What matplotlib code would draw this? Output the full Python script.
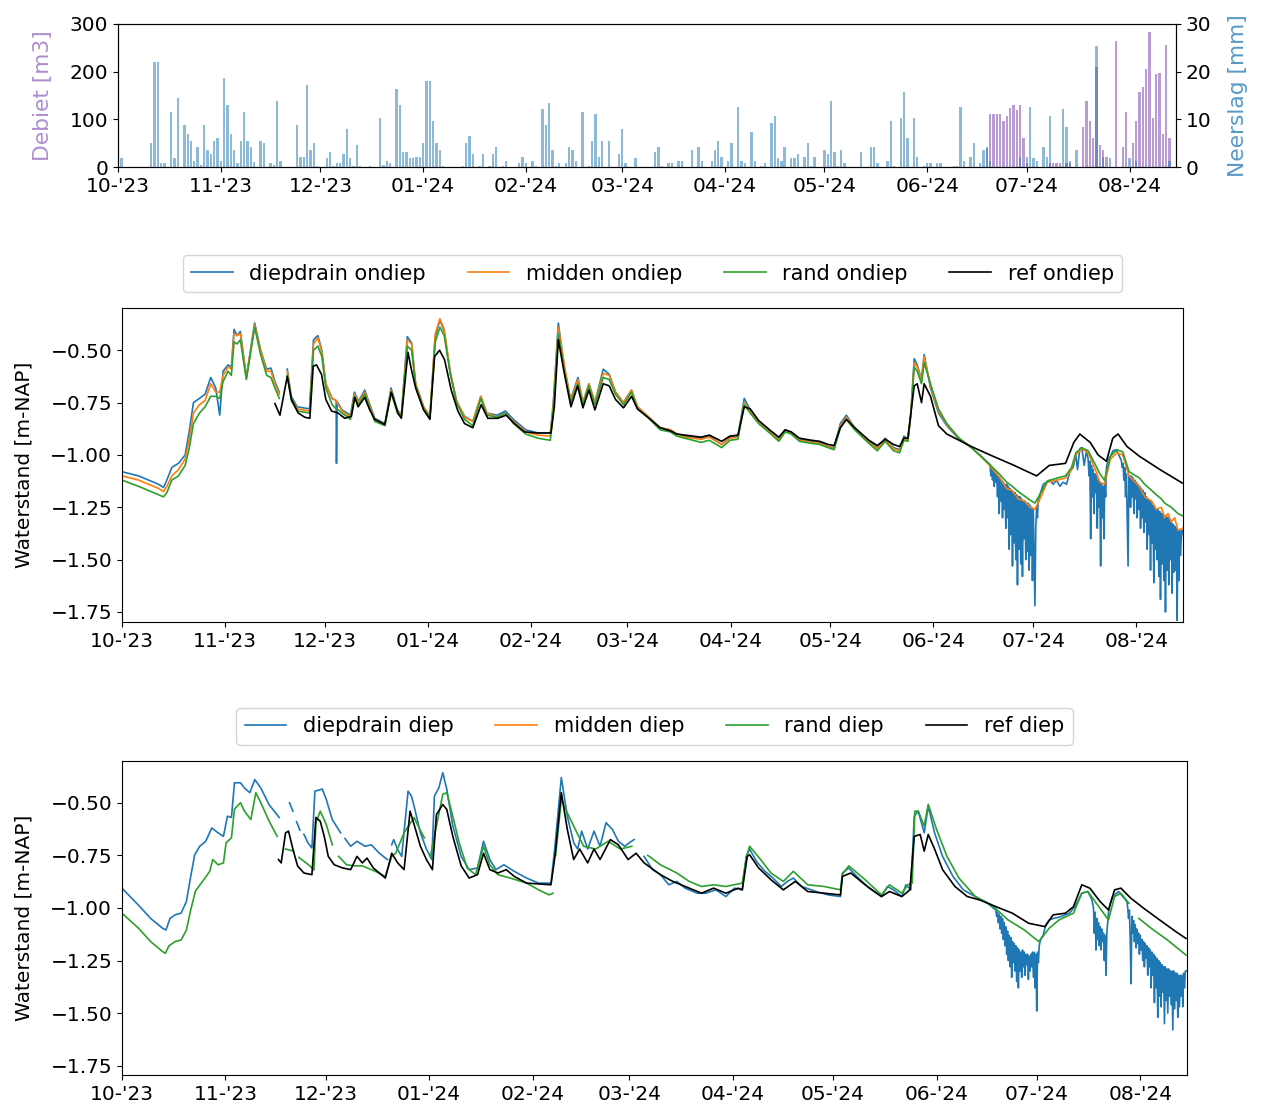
import numpy as np
import pandas as pd
import matplotlib
matplotlib.use("Agg")
import matplotlib.pyplot as plt
import matplotlib.dates as mdates

plt.rcParams['font.size'] = 14.5

start = pd.Timestamp('2023-10-01')

# Neerslag [mm] per dag (dag-index vanaf 1 okt 2023)
rain_days = [1, 10, 11, 12, 13, 14, 16, 17, 18, 20, 21, 22, 23, 24, 25, 26, 27, 28, 29, 30,
             31, 32, 33, 34, 35, 36, 37, 38, 39, 40, 41, 43, 44, 46, 47, 48, 49, 54, 55, 56,
             57, 58, 59, 60, 63, 64, 65, 66, 67, 68, 69, 70, 71, 72, 73, 76, 79, 80, 81, 82,
             84, 85, 86, 87, 88, 89, 90, 91, 92, 93, 94, 95, 96, 97, 98, 104, 105, 106, 107, 109,
             110, 112, 113, 114, 116, 117, 121, 122, 123, 125, 126, 128, 129, 130, 131, 132, 133, 135, 136, 137,
             138, 140, 142, 143, 144, 145, 146, 148, 151, 152, 153, 156, 162, 163, 164, 166, 167, 169, 170, 173,
             175, 176, 179, 180, 181, 182, 184, 185, 187, 188, 189, 191, 192, 194, 195, 197, 198, 199, 200, 201,
             203, 204, 205, 207, 208, 209, 210, 213, 214, 215, 216, 217, 218, 219, 224, 227, 228, 229, 232, 233,
             234, 236, 237, 238, 240, 241, 243, 244, 245, 247, 248, 252, 253, 254, 255, 257, 258, 260, 261, 262,
             263, 272, 274, 275, 276, 277, 279, 280, 281, 285, 286, 287, 289, 295, 297, 299, 305, 307, 317]
rain_mm = [1.8, 5.0, 22.0, 22.0, 0.8, 0.8, 11.6, 1.8, 14.4, 8.8, 7.0, 5.5, 1.3, 4.1, 0.5, 8.8, 3.6, 2.8, 5.5, 6.0,
           1.3, 18.6, 13.0, 7.0, 3.6, 0.8, 5.5, 11.6, 5.5, 4.1, 1.0, 5.5, 5.0, 0.8, 0.5, 13.9, 1.3, 8.8, 2.2, 2.2,
           17.2, 3.6, 5.0, 0.3, 1.8, 3.2, 0.3, 0.8, 0.8, 2.7, 7.9, 1.8, 0.3, 4.6, 0.3, 0.3, 10.2, 0.5, 1.3, 0.8,
           16.3, 13.0, 3.2, 3.2, 1.8, 1.8, 2.2, 2.2, 5.0, 18.1, 18.1, 9.7, 5.0, 3.6, 0.3, 0.3, 5.0, 6.5, 2.8, 0.3,
           2.8, 0.3, 2.8, 4.1, 0.3, 1.3, 0.8, 2.2, 0.8, 1.3, 0.3, 12.1, 8.8, 13.5, 3.6, 0.3, 0.8, 0.8, 4.1, 3.6,
           1.3, 11.6, 0.3, 5.5, 11.1, 2.2, 5.5, 5.5, 2.7, 7.9, 0.8, 1.8, 3.2, 4.1, 0.3, 0.8, 0.8, 1.3, 1.3, 3.6,
           4.1, 1.3, 1.3, 3.6, 5.5, 2.2, 1.3, 5.0, 12.5, 1.3, 0.8, 7.4, 1.3, 0.3, 0.8, 9.3, 10.6, 1.8, 1.3, 4.1,
           1.8, 1.8, 2.7, 2.2, 5.0, 0.3, 2.2, 3.6, 2.7, 13.9, 3.2, 0.3, 3.6, 0.8, 3.2, 4.1, 4.1, 0.8, 1.3, 9.7,
           0.3, 10.2, 15.8, 6.0, 10.2, 2.2, 0.3, 0.8, 0.8, 0.8, 0.8, 0.3, 0.3, 12.5, 1.3, 2.2, 5.0, 0.8, 3.6, 4.1,
           1.3, 2.2, 2.2, 12.5, 1.8, 1.3, 4.1, 2.2, 10.6, 12.1, 8.3, 1.3, 3.6, 25.4, 2.2, 1.8, 1.8, 1.3, 1.3]

# Debiet [m3] per dag
debiet_days = [262, 263, 264, 265, 266, 267, 268, 269, 270, 271, 272, 273, 274,
               281, 282, 283, 284, 286, 287, 291, 292, 293, 294, 295, 296, 297, 298,
               301, 303, 304, 306, 307, 308, 309, 310, 311, 312, 313, 314, 315, 316, 317]
debiet_m3 = [40, 111, 111, 111, 111, 97, 106, 124, 129, 120, 129, 60, 8,
             8, 8, 8, 8, 8, 8, 83, 139, 97, 60, 209, 46, 36, 22,
             265, 41, 116, 50, 97, 158, 167, 205, 284, 102, 195, 198, 70, 256, 60]

# Ondiepe peilbuizen (gedeeld dag-raster tot half juni)
ond_days = [0, 5, 11, 12.5, 13.5, 15, 17, 19, 20.2, 21.5, 23.3, 25, 26.7, 28.2, 29.4, 30.4, 31.9, 32.9,
            33.7, 34.6, 35.6, 37.4, 39.9, 41.7, 43.5, 44.8, 46, 47.3, 48, 49.7, 50.9, 52.7, 56.4, 57.6,
            58.9, 60.1, 61.3, 63.2, 64.4, 64.5, 64.7, 66.2, 68.7, 69.9, 71.1, 73, 74.2, 76, 79.1, 80.9,
            82.8, 84, 85.8, 87.1, 88.3, 90.7, 92.6, 94.2, 95.6, 96.9, 98.7, 100.6, 103, 105.5, 107.9,
            109.7, 112.8, 115.3, 117.7, 121.4, 125.1, 128.8, 129.7, 131.2, 133, 134.9, 137.1, 138.6,
            140.4, 142.2, 144.7, 146.5, 148.4, 150.8, 153.2, 155, 158.1, 161.8, 164.9, 166.8, 169.2,
            174.1, 176.6, 180.3, 182.8, 185.2, 187.1, 188.9, 191.4, 195.1, 197.5, 199.4, 201.2, 203.7,
            207.4, 209.8, 212.3, 214.1, 216, 217.8, 220.3, 224.6, 227.1, 229.5, 232, 233.8, 235.1,
            236.3, 237.2, 238.2, 239.1, 240.4, 241.2, 243.1, 245.5, 248, 251.7, 255.4, 257.8, 260.9]
drain_ond = [-1.08, -1.10, -1.14, -1.155, -1.12, -1.06, -1.04, -1.00, -0.89, -0.75, -0.73, -0.71, -0.63, -0.68, -0.81, -0.60, -0.57, -0.58,
             -0.40, -0.43, -0.41, -0.63, -0.37, -0.50, -0.59, -0.585, -0.65, -0.70, np.nan, -0.59, -0.72, -0.77, -0.78, -0.45,
             -0.43, -0.50, -0.66, -0.73, -0.74, -1.04, -0.745, -0.785, -0.81, -0.70, -0.745, -0.69, -0.745, -0.825, -0.85, -0.68,
             -0.785, -0.81, -0.435, -0.465, -0.66, -0.77, -0.815, -0.435, -0.355, -0.41, -0.61, -0.745, -0.815, -0.84, -0.72,
             -0.80, -0.81, -0.79, -0.83, -0.88, -0.895, -0.895, -0.75, -0.37, -0.58, -0.735, -0.63, -0.75,
             -0.66, -0.75, -0.59, -0.615, -0.70, -0.75, -0.69, -0.77, -0.815, -0.87, -0.88, -0.90, -0.91,
             -0.92, -0.91, -0.95, -0.915, -0.91, -0.73, -0.785, -0.84, -0.89, -0.925, -0.88, -0.89, -0.925,
             -0.935, -0.94, -0.96, -0.965, -0.85, -0.81, -0.87, -0.935, -0.965, -0.92, -0.965, -0.975, -0.91,
             -0.925, -0.80, -0.54, -0.57, -0.64, -0.52, -0.68, -0.80, -0.86, -0.925, -0.965, -0.998, -1.045]
midden_ond = [-1.10, -1.12, -1.16, -1.175, -1.15, -1.10, -1.07, -1.02, -0.93, -0.80, -0.76, -0.74, -0.66, -0.70, -0.70, -0.62, -0.58, -0.59,
              -0.42, -0.43, -0.42, -0.63, -0.38, -0.50, -0.60, -0.60, -0.66, -0.71, np.nan, -0.60, -0.73, -0.78, -0.79, -0.47,
              -0.44, -0.51, -0.66, -0.73, -0.74, -0.745, -0.75, -0.79, -0.82, -0.71, -0.75, -0.70, -0.75, -0.83, -0.855, -0.69,
              -0.79, -0.815, -0.45, -0.47, -0.66, -0.77, -0.815, -0.42, -0.35, -0.40, -0.60, -0.74, -0.82, -0.84, -0.72,
              -0.80, -0.82, -0.80, -0.84, -0.89, -0.905, -0.91, -0.76, -0.39, -0.57, -0.74, -0.64, -0.75,
              -0.66, -0.75, -0.61, -0.62, -0.70, -0.75, -0.69, -0.77, -0.815, -0.87, -0.88, -0.90, -0.915,
              -0.925, -0.915, -0.95, -0.92, -0.915, -0.75, -0.79, -0.84, -0.89, -0.93, -0.885, -0.895, -0.93,
              -0.94, -0.945, -0.96, -0.97, -0.86, -0.82, -0.87, -0.94, -0.97, -0.925, -0.97, -0.98, -0.92,
              -0.93, -0.80, -0.56, -0.58, -0.64, -0.53, -0.67, -0.79, -0.855, -0.92, -0.965, -1.00, -1.05]
rand_ond = [-1.12, -1.15, -1.19, -1.20, -1.18, -1.12, -1.10, -1.05, -0.97, -0.85, -0.80, -0.77, -0.72, -0.72, -0.73, -0.65, -0.60, -0.62,
            -0.46, -0.47, -0.45, -0.64, -0.39, -0.52, -0.62, -0.63, -0.68, -0.73, np.nan, -0.62, -0.74, -0.79, -0.80, -0.50,
            -0.48, -0.53, -0.68, -0.76, -0.78, -0.78, -0.78, -0.80, -0.83, -0.72, -0.76, -0.71, -0.76, -0.84, -0.86, -0.70,
            -0.80, -0.82, -0.48, -0.50, -0.67, -0.78, -0.82, -0.46, -0.39, -0.43, -0.61, -0.75, -0.83, -0.86, -0.73,
            -0.81, -0.82, -0.80, -0.85, -0.90, -0.92, -0.93, -0.78, -0.42, -0.60, -0.75, -0.66, -0.76,
            -0.67, -0.76, -0.63, -0.64, -0.71, -0.76, -0.70, -0.78, -0.82, -0.88, -0.89, -0.91, -0.92,
            -0.94, -0.93, -0.965, -0.93, -0.925, -0.76, -0.80, -0.85, -0.90, -0.935, -0.89, -0.90, -0.935,
            -0.945, -0.95, -0.965, -0.975, -0.87, -0.83, -0.88, -0.945, -0.98, -0.935, -0.98, -0.99, -0.93,
            -0.935, -0.81, -0.58, -0.60, -0.66, -0.56, -0.66, -0.78, -0.85, -0.92, -0.965, -1.00, -1.046]

# zomer: midden en rand ondiep
ond_zomer_days = [264, 266, 267.7, 269.5, 271.4, 273, 274.5, 276.3, 278.2, 281.2, 283.7, 285.5, 286.8, 288.6, 290.5, 292.9,
                  294, 295.4, 297.2, 299.1, 300.9, 302.8, 305.9, 307.5, 309.6, 311, 312.5, 313.5, 314.5, 315.5, 316.5, 317.5, 318.8]
midden_ond_zomer = [-1.11, -1.16, -1.17, -1.21, -1.22, -1.25, -1.26, -1.20, -1.13, -1.12, -1.11, -1.07, -1.00, -0.97, -0.99, -1.08,
                    -1.13, -1.14, -1.02, -0.99, -1.00, -1.10, -1.15, -1.20, -1.22, -1.26, -1.25, -1.30, -1.28, -1.32, -1.30, -1.36, -1.35]
rand_ond_zomer = [-1.094, -1.13, -1.15, -1.175, -1.197, -1.215, -1.23, -1.18, -1.125, -1.11, -1.10, -1.06, -0.99, -0.965, -0.98, -1.054,
                  -1.09, -1.12, -1.006, -0.975, -0.985, -1.08, -1.11, -1.14, -1.17, -1.19, -1.21, -1.23, -1.24, -1.25, -1.265, -1.28, -1.29]

# zomer: diepdrain ondiep (pompende drain, sterke schommelingen)
drain_ond_zomer_days = [261.0, 261.25, 261.5, 261.75, 262.0, 262.25, 262.5, 262.75, 263.0, 263.25, 263.5, 263.75,
                        264.0, 264.25, 264.5, 264.75, 265.0, 265.25, 265.5, 265.75, 266.0, 266.25, 266.5, 266.75,
                        267.0, 267.25, 267.5, 267.75, 268.0, 268.25, 268.5, 268.75, 269.0, 269.25, 269.5, 269.75,
                        270.0, 270.25, 270.5, 270.75, 271.0, 271.25, 271.5, 271.75, 272.0, 272.25, 272.5, 272.75,
                        273.0, 273.25, 273.5, 273.75, 274.0, 274.25, 274.5, 274.75, 275.0, 275.25, 275.5, 275.75, 276.0,
                        277, 278, 279, 280, 281, 282, 283, 284, 285, 286, 286.8, 287.3, 288, 288.6, 289.3, 290,
                        290.5, 290.75, 291.0, 291.25, 291.5, 291.75, 292.0, 292.25, 292.5, 292.75, 293.0, 293.25,
                        293.5, 293.75, 294.0, 294.25, 294.5, 294.75, 295.0, 295.25, 295.5, 295.75, 296.0, 296.5,
                        297.2, 298, 299, 299.7, 300.3,
                        300.5, 300.75, 301.0, 301.25, 301.5, 301.75, 302.0, 302.25, 302.5, 302.75, 303.0, 303.25,
                        303.5, 303.75, 304.0, 304.25, 304.5, 304.75, 305.0, 305.25, 305.5, 305.75, 306.0, 306.25,
                        306.5, 306.75, 307.0, 307.25, 307.5, 307.75, 308.0, 308.25, 308.5, 308.75, 309.0, 309.25,
                        309.5, 309.75, 310.0, 310.25, 310.5, 310.75, 311.0, 311.25, 311.5, 311.75, 312.0, 312.25,
                        312.5, 312.75, 313.0, 313.25, 313.5, 313.75, 314.0, 314.25, 314.5, 314.75, 315.0, 315.25,
                        315.5, 315.75, 316.0, 316.25, 316.5, 316.75, 317.0, 317.25, 317.5, 317.75, 318.0, 318.25,
                        318.5, 318.75, 319.0]
drain_ond_zomer = [-1.05, -1.10, -1.06, -1.12, -1.07, -1.15, -1.08, -1.13, -1.09, -1.20, -1.10, -1.28,
                   -1.11, -1.22, -1.12, -1.30, -1.13, -1.26, -1.14, -1.35, -1.14, -1.30, -1.15, -1.45,
                   -1.16, -1.38, -1.17, -1.53, -1.18, -1.42, -1.18, -1.50, -1.19, -1.62, -1.20, -1.45,
                   -1.20, -1.52, -1.21, -1.58, -1.22, -1.40, -1.22, -1.50, -1.23, -1.46, -1.23, -1.55,
                   -1.24, -1.48, -1.25, -1.60, -1.26, -1.50, -1.72, -1.35, -1.25, -1.30, -1.21, -1.22, -1.19,
                   -1.14, -1.13, -1.12, -1.14, -1.12, -1.15, -1.13, -1.14, -1.08, -1.06, -1.00, -1.07, -0.97, -0.965, -1.05, -0.98,
                   -1.02, -1.10, -1.03, -1.40, -1.05, -1.20, -1.07, -1.28, -1.09, -1.18, -1.10, -1.35,
                   -1.12, -1.25, -1.13, -1.53, -1.14, -1.30, -1.15, -1.40, -1.12, -1.20, -1.06, -1.02,
                   -1.006, -0.98, -0.975, -1.00, -1.02,
                   -1.03, -1.06, -1.04, -1.12, -1.06, -1.20, -1.09, -1.30, -1.53, -1.10, -1.10, -1.25,
                   -1.10, -1.20, -1.11, -1.28, -1.12, -1.21, -1.13, -1.30, -1.14, -1.26, -1.15, -1.35,
                   -1.16, -1.30, -1.17, -1.37, -1.18, -1.32, -1.20, -1.45, -1.21, -1.38, -1.22, -1.55,
                   -1.23, -1.42, -1.24, -1.61, -1.25, -1.45, -1.26, -1.50, -1.26, -1.58, -1.27, -1.69,
                   -1.28, -1.52, -1.28, -1.60, -1.29, -1.75, -1.29, -1.55, -1.30, -1.62, -1.31, -1.50,
                   -1.32, -1.66, -1.33, -1.56, -1.34, -1.55, -1.35, -1.79, -1.36, -1.60, -1.36, -1.48,
                   -1.40, -1.36, -1.37]

# referentie ondiep
ref_ond_days = [46, 47.5, 49.7, 51, 53, 55, 56.5, 57.5, 58.5, 60, 61.3, 63, 65, 67, 69, 70, 71, 73, 74.5, 76, 79, 81,
                83, 84, 86, 87, 88.3, 90.7, 92.6, 94, 95.5, 97, 99, 101, 103, 105.5, 108, 110, 113, 115.5, 118, 121,
                125, 129, 130, 131.2, 133, 135, 137, 138.6, 140.4, 142.2, 144.7, 146.5, 148.4, 150.8, 153.2, 155, 158.1,
                161.8, 164.9, 166.8, 169.2, 174.1, 176.6, 180.3, 182.8, 185.2, 187.1, 188.9, 191.4, 195.1, 197.5, 199.4,
                201.2, 203.7, 207.4, 209.8, 212.3, 214.1, 216, 217.8, 220.3, 224.6, 227.1, 229.5, 232, 233.8, 235.1, 236.3,
                237.2, 238.2, 239.1, 240.4, 241.2, 243.1, 245.5, 248, 251.7, 255.4, 261, 267.7, 275, 278.8, 283.7, 286.2,
                288, 291.1, 293.5, 296, 297.9, 299.5, 302.2, 305.9, 312.1, 318.8]
ref_ond = [-0.755, -0.81, -0.625, -0.735, -0.80, -0.82, -0.825, -0.576, -0.57, -0.615, -0.735, -0.79, -0.80, -0.825, -0.815, -0.725, -0.77, -0.725, -0.785, -0.83, -0.855, -0.70,
           -0.80, -0.825, -0.51, -0.59, -0.68, -0.785, -0.83, -0.53, -0.50, -0.545, -0.69, -0.79, -0.85, -0.87, -0.76, -0.825, -0.825, -0.81, -0.85, -0.89,
           -0.895, -0.895, -0.77, -0.45, -0.61, -0.77, -0.67, -0.775, -0.69, -0.785, -0.66, -0.67, -0.735, -0.775, -0.72, -0.78, -0.82,
           -0.87, -0.885, -0.90, -0.905, -0.915, -0.905, -0.935, -0.91, -0.905, -0.77, -0.78, -0.835, -0.885, -0.915, -0.88,
           -0.89, -0.92, -0.93, -0.935, -0.95, -0.955, -0.87, -0.83, -0.87, -0.93, -0.955, -0.925, -0.95, -0.96, -0.92, -0.92,
           -0.80, -0.67, -0.66, -0.75, -0.66, -0.72, -0.86, -0.90, -0.93, -0.96, -1.00, -1.046, -1.10, -1.05, -1.04, -0.94,
           -0.90, -0.94, -1.00, -1.03, -0.92, -0.90, -0.96, -1.006, -1.07, -1.134]

# Diepe peilbuizen
drain_diep_days = [0, 4.9, 8.6, 12.2, 13.2, 14.4, 15.9, 17.7, 19.3, 20.6, 21.8, 23.3, 25.1, 26.9, 28.8, 30.4, 31.6, 32.8,
                   33.7, 35.5, 36.7, 38.3, 39.8, 41.6, 44.1, 47.1, 47.6, 50.2, 51.2, 51.6, 52.3, 53.3, 53.8, 54.5, 55.7,
                   56.9, 57.8, 60, 61.2, 63, 65.5, 66, 66.8, 68.5, 70.4, 72.8, 74.7, 77.1, 79.5, 80, 80.8, 81.4, 82.5,
                   83.8, 85.7, 86.7, 87.5, 89.4, 91.2, 92.8, 93.6, 94.9, 96.1, 97.3, 99.1, 101.6, 104, 106.5, 108.3,
                   110.2, 112, 114.4, 117.5, 121.2, 124.8, 128.5, 129.7, 131.6, 133.4, 135.3, 136.5, 137.7, 139.5, 141.4,
                   143.2, 145, 146.9, 148.7, 150.6, 152, 153.4, 154, 156.4, 158.9, 161.3, 163.8, 166.2, 168.7, 172.3,
                   174.8, 177.9, 180.9, 183.4, 185.8, 187, 188, 190.1, 192.6, 195, 197.5, 199.3, 201.1, 203.6, 207.9,
                   211.5, 215.2, 215.8, 217.7, 220.1, 223.8, 227.5, 229.3, 231.1, 233.6, 234.8, 236.3, 237.3, 238.5,
                   240.3, 241.5, 243.4, 245.8, 248.9, 252, 255.6, 259.3]
drain_diep = [-0.906, -0.986, -1.05, -1.097, -1.105, -1.05, -1.033, -1.025, -0.97, -0.85, -0.747, -0.707, -0.683, -0.62, -0.643, -0.66, -0.564, -0.57,
              -0.405, -0.405, -0.43, -0.452, -0.39, -0.43, -0.51, -0.57, np.nan, -0.50, -0.54, np.nan, -0.59, -0.63, np.nan, -0.65, -0.69,
              -0.715, -0.445, -0.435, -0.484, -0.58, -0.643, np.nan, -0.67, -0.707, -0.683, -0.707, -0.70, -0.74, -0.77, np.nan, -0.70, -0.675, -0.72,
              -0.755, -0.445, -0.468, -0.516, -0.643, -0.72, -0.77, -0.468, -0.43, -0.357, -0.436, -0.61, -0.755, -0.818, -0.81, -0.683,
              -0.77, -0.818, -0.795, -0.826, -0.858, -0.882, -0.882, -0.707, -0.38, -0.564, -0.69, -0.72, -0.635, -0.72, -0.635,
              -0.707, -0.595, -0.627, -0.683, -0.707, -0.69, -0.675, np.nan, -0.755, -0.818, -0.842, -0.89, -0.874, -0.906, -0.93,
              -0.93, -0.914, -0.946, -0.906, -0.914, -0.755, -0.72, -0.78, -0.826, -0.858, -0.898, -0.874, -0.858, -0.898, -0.922,
              -0.938, -0.946, -0.834, -0.81, -0.85, -0.906, -0.946, -0.898, -0.914, -0.946, -0.89, -0.914, -0.564, -0.54,
              -0.643, -0.516, -0.643, -0.755, -0.85, -0.914, -0.946, -0.978]

drain_diep_zomer_days = [261.75, 262.0, 262.25, 262.5, 262.75, 263.0, 263.25, 263.5, 263.75, 264.0, 264.25, 264.5,
                         264.75, 265.0, 265.25, 265.5, 265.75, 266.0, 266.25, 266.5, 266.75, 267.0, 267.25, 267.5,
                         267.75, 268.0, 268.25, 268.5, 268.75, 269.0, 269.25, 269.5, 269.75, 270.0, 270.25, 270.5,
                         270.75, 271.0, 271.25, 271.5, 271.75, 272.0, 272.25, 272.5, 272.75, 273.0, 273.25, 273.5,
                         273.75, 274.0, 274.25, 274.5, 274.75, 275.0, 275.5, 275.8, 276.7, 277.7, 279, 280.5, 281.4,
                         283, 283.8, 285.6, 287.5, 289.3, 290.5,
                         291.0, 291.25, 291.5, 291.75, 292.0, 292.25, 292.5, 292.75, 293.0, 293.25, 293.5, 293.75,
                         294.0, 294.25, 294.5, 294.75, 295.0, 295.5, 296.0, 296.7, 298.5, 300, 301,
                         301.25, 301.5, 301.75, 302.0, 302.25, 302.5, 302.75, 303.0, 303.25, 303.5, 303.75, 304.0,
                         304.25, 304.5, 304.75, 305.0, 305.25, 305.5, 305.75, 306.0, 306.25, 306.5, 306.75, 307.0,
                         307.25, 307.5, 307.75, 308.0, 308.25, 308.5, 308.75, 309.0, 309.25, 309.5, 309.75, 310.0,
                         310.25, 310.5, 310.75, 311.0, 311.25, 311.5, 311.75, 312.0, 312.25, 312.5, 312.75, 313.0,
                         313.25, 313.5, 313.75, 314.0, 314.25, 314.5, 314.75, 315.0, 315.25, 315.5, 315.75, 316.0,
                         316.25, 316.5, 316.75, 317.0, 317.25, 317.5, 317.75, 318.0, 318.25, 318.5, 318.75]
drain_diep_zomer = [-1.01, -1.04, -1.02, -1.07, -1.03, -1.10, -1.04, -1.12, -1.05, -1.15, -1.07, -1.18,
                    -1.09, -1.22, -1.11, -1.25, -1.13, -1.28, -1.14, -1.33, -1.16, -1.26, -1.17, -1.30,
                    -1.18, -1.35, -1.19, -1.38, -1.20, -1.30, -1.21, -1.33, -1.20, -1.28, -1.21, -1.32,
                    -1.22, -1.27, -1.22, -1.34, -1.23, -1.30, -1.22, -1.28, -1.21, -1.33, -1.21, -1.38,
                    -1.22, -1.49, -1.21, -1.26, -1.18, -1.16, -1.14, -1.137, -1.08, -1.057, -1.05, -1.045, -1.04,
                    -1.03, -1.025, -0.99, -0.93, -0.922, -0.96,
                    -1.00, -1.12, -1.02, -1.20, -1.05, -1.15, -1.07, -1.18, -1.09, -1.20, -1.10, -1.16,
                    -1.12, -1.25, -1.13, -1.32, -1.12, -1.02, -0.98, -0.946, -0.922, -0.95, -0.97,
                    -1.00, -1.05, -1.01, -1.15, -1.36, -1.04, -1.12, -1.06, -1.16, -1.08, -1.19, -1.10,
                    -1.17, -1.12, -1.22, -1.13, -1.20, -1.15, -1.25, -1.16, -1.28, -1.17, -1.24, -1.18,
                    -1.32, -1.19, -1.28, -1.20, -1.38, -1.21, -1.32, -1.22, -1.45, -1.23, -1.38, -1.24,
                    -1.52, -1.25, -1.42, -1.26, -1.47, -1.27, -1.40, -1.28, -1.55, -1.28, -1.44, -1.29,
                    -1.50, -1.29, -1.42, -1.30, -1.46, -1.30, -1.58, -1.30, -1.48, -1.31, -1.44, -1.31,
                    -1.52, -1.32, -1.47, -1.32, -1.42, -1.32, -1.47, -1.31, -1.38, -1.30, -1.30]

# midden diep heeft geen metingen
midden_diep_days = []
midden_diep = []

rand_diep_days = [0, 5, 8.6, 12.2, 13, 14.1, 15.9, 17.7, 19.3, 20.6, 22, 24.5, 26.3, 27.2, 28.8, 30.4, 31.2, 32.8, 33.7,
                  35.5, 36.7, 38.6, 40.1, 41.6, 44.1, 46.5, 48, 49, 51.4, 52, 53, 56.3, 57.5, 58.1, 59.4, 61.2, 63, 64,
                  64.9, 67.3, 69.8, 72, 75.9, 78.9, 80.8, 82, 84.5, 87.5, 89, 90.6, 91, 92.4, 94.2, 96.1, 97.3, 99.1,
                  101, 103.4, 105.9, 108.3, 110.2, 112.6, 116.3, 121.2, 124.8, 127.9, 129.1, 129.4, 129.9, 131.6, 133.4,
                  135.8, 138.3, 141.9, 145.6, 149.3, 152.7, 153.5, 157.5, 161.3, 166.2, 169.9, 173.6, 177.2, 180.9,
                  185.8, 187, 188, 191.3, 194.4, 198.1, 201.1, 205.4, 210.3, 215.2, 215.8, 217.7, 222.6, 227.5, 229.9,
                  233.6, 235.4, 236.7, 237.5, 238.5, 240.3, 241.5, 244, 247.1, 250.7, 255.6, 260.5, 265.4, 270.3, 274.6,
                  277.7, 280.7, 285, 287.5, 289.3, 292.4, 295.5, 297.3, 299.2, 301.6, 303, 304.6, 308.3, 313.2, 318.7]
rand_diep = [-1.025, -1.097, -1.16, -1.208, -1.216, -1.18, -1.16, -1.153, -1.105, -1.01, -0.92, -0.866, -0.826, -0.77, -0.795, -0.786, -0.69, -0.667, -0.53,
             -0.50, -0.54, -0.58, -0.452, -0.50, -0.588, -0.66, np.nan, -0.72, -0.73, np.nan, -0.76, -0.80, -0.82, -0.595, -0.54, -0.603, -0.70, np.nan,
             -0.755, -0.795, -0.80, -0.80, -0.826, -0.85, -0.755, -0.74, -0.643, -0.57, -0.62, -0.667, np.nan, -0.755, -0.61, -0.46, -0.452, -0.564,
             -0.69, -0.81, -0.842, -0.707, -0.795, -0.842, -0.858, -0.882, -0.914, -0.938, -0.93, np.nan, -0.75, -0.484, -0.548,
             -0.627, -0.707, -0.72, -0.683, -0.72, -0.707, np.nan, -0.75, -0.795, -0.834, -0.874, -0.898, -0.89, -0.898,
             -0.882, -0.76, -0.707, -0.77, -0.834, -0.874, -0.826, -0.89, -0.898, -0.914, -0.84, -0.80, -0.866, -0.938, -0.89,
             -0.93, -0.89, -0.882, -0.54, -0.54, -0.61, -0.508, -0.627, -0.755, -0.858, -0.946, -0.986, -1.057, -1.105, -1.16,
             -1.097, -1.057, -1.025, -0.93, -0.922, -0.99, -1.057, -0.946, -0.93, -0.978, np.nan, -1.05, -1.097, -1.153, -1.224]

ref_diep_days = [46.9, 47.7, 49, 49.9, 51.2, 52.6, 54.5, 56.9, 58.1, 59.4, 60.6, 61.8, 63.6, 66.1, 68.5, 70.4, 72, 73.4,
                 75.3, 78.9, 80.8, 82.6, 84.5, 86.3, 87.5, 89.4, 91.2, 93, 94.2, 96.1, 97.3, 99.1, 101.6, 104, 106.5,
                 108.3, 110.2, 112.6, 115.1, 117.5, 121.2, 128.5, 129.7, 131.6, 133.4, 135.3, 137.1, 139.5, 141.4, 143.2,
                 146.3, 148.7, 151.6, 154, 156.4, 161.3, 165, 168.7, 173.6, 177.2, 180.9, 184.6, 185.8, 187.3, 188, 190.7,
                 194.4, 198.1, 201.7, 205.4, 210.3, 215.2, 215.8, 218.3, 222.6, 227.5, 229.9, 233.6, 236, 237.3, 239.1,
                 240.3, 241.5, 243.4, 245.8, 249.5, 253.2, 256.9, 261.8, 266.7, 271.6, 276.5, 278.9, 282.6, 285, 287.5,
                 289.9, 293, 295.5, 297.3, 299.2, 302.2, 305.9, 310.8, 315.7, 318.7]
ref_diep = [-0.77, -0.786, -0.643, -0.635, -0.72, -0.80, -0.834, -0.842, -0.57, -0.588, -0.66, -0.755, -0.795, -0.81, -0.818, -0.755, -0.786, -0.763,
            -0.81, -0.858, -0.74, -0.786, -0.818, -0.54, -0.603, -0.707, -0.77, -0.818, -0.556, -0.508, -0.532, -0.66, -0.80, -0.858, -0.842,
            -0.74, -0.818, -0.834, -0.818, -0.85, -0.882, -0.89, -0.755, -0.452, -0.627, -0.77, -0.72, -0.786, -0.72, -0.77,
            -0.675, -0.70, -0.77, -0.74, -0.786, -0.842, -0.874, -0.898, -0.93, -0.906, -0.93, -0.906, -0.914, -0.755, -0.747, -0.81,
            -0.866, -0.914, -0.874, -0.922, -0.93, -0.938, -0.85, -0.834, -0.89, -0.946, -0.922, -0.946, -0.914, -0.66, -0.651,
            -0.73, -0.651, -0.72, -0.818, -0.898, -0.946, -0.962, -0.994, -1.025, -1.073, -1.089, -1.033, -1.025, -0.994, -0.89,
            -0.906, -0.97, -1.01, -0.914, -0.906, -0.954, -1.0, -1.057, -1.113, -1.145]


def to_dates(days):
    return start + pd.to_timedelta(np.asarray(days, dtype=float), unit='D')


fig = plt.figure(figsize=(12.61, 11.09), dpi=100)

# --- bovenste grafiek: debiet en neerslag ---
ax0 = fig.add_axes([0.0936, 0.8494, 0.839, 0.1290])
ax0.bar(to_dates(debiet_days), debiet_m3, width=0.7, color='tab:purple', alpha=0.65)
ax0.set_ylim(0, 300)
ax0.set_yticks([0, 100, 200, 300])
ax0.set_ylabel('Debiet [m3]', color='tab:purple', alpha=0.75, fontsize=15.7, labelpad=12)

ax0r = ax0.twinx()
ax0r.bar(to_dates(rain_days), rain_mm, width=0.7, color='tab:blue', alpha=0.5)
ax0r.set_ylim(0, 30)
ax0r.set_yticks([0, 10, 20, 30])
ax0r.set_ylabel('Neerslag [mm]', color='tab:blue', alpha=0.75, fontsize=15.7, labelpad=12)

xmin = start
xmax = start + pd.Timedelta(days=319)
for a in (ax0, ax0r):
    a.set_xlim(xmin, xmax)

# --- middelste grafiek: ondiep ---
ax1 = fig.add_axes([0.0967, 0.4391, 0.8414, 0.2832])
ax1.plot(to_dates(ond_days + drain_ond_zomer_days), drain_ond + drain_ond_zomer,
         color='tab:blue', lw=1.2, label='diepdrain ondiep')
ax1.plot(to_dates(ond_days + ond_zomer_days), midden_ond + midden_ond_zomer,
         color='tab:orange', lw=1.2, label='midden ondiep')
ax1.plot(to_dates(ond_days + ond_zomer_days), rand_ond + rand_ond_zomer,
         color='tab:green', lw=1.2, label='rand ondiep')
ax1.plot(to_dates(ref_ond_days), ref_ond, color='black', lw=1.2, label='ref ondiep')
ax1.set_ylim(-1.798, -0.298)
ax1.set_yticks([-1.75, -1.5, -1.25, -1.0, -0.75, -0.5])
ax1.set_ylabel('Waterstand [m-NAP]', labelpad=12)
ax1.legend(loc='lower center', bbox_to_anchor=(0.5, 1.018), ncol=4, fontsize=15)

# --- onderste grafiek: diep ---
ax2 = fig.add_axes([0.0967, 0.0307, 0.8446, 0.2832])
ax2.plot(to_dates(drain_diep_days + drain_diep_zomer_days), drain_diep + drain_diep_zomer,
         color='tab:blue', lw=1.2, label='diepdrain diep')
ax2.plot(to_dates(midden_diep_days), midden_diep, color='tab:orange', lw=1.2, label='midden diep')
ax2.plot(to_dates(rand_diep_days), rand_diep, color='tab:green', lw=1.2, label='rand diep')
ax2.plot(to_dates(ref_diep_days), ref_diep, color='black', lw=1.2, label='ref diep')
ax2.set_ylim(-1.794, -0.301)
ax2.set_yticks([-1.75, -1.5, -1.25, -1.0, -0.75, -0.5])
ax2.set_ylabel('Waterstand [m-NAP]', labelpad=12)
ax2.legend(loc='lower center', bbox_to_anchor=(0.5, 1.018), ncol=4, fontsize=15)

for a in (ax0, ax1, ax2):
    a.set_xlim(xmin, xmax)
    a.xaxis.set_major_locator(mdates.MonthLocator())
    a.xaxis.set_major_formatter(mdates.DateFormatter("%m-'%y"))

fig.savefig('out.png', dpi=100)
